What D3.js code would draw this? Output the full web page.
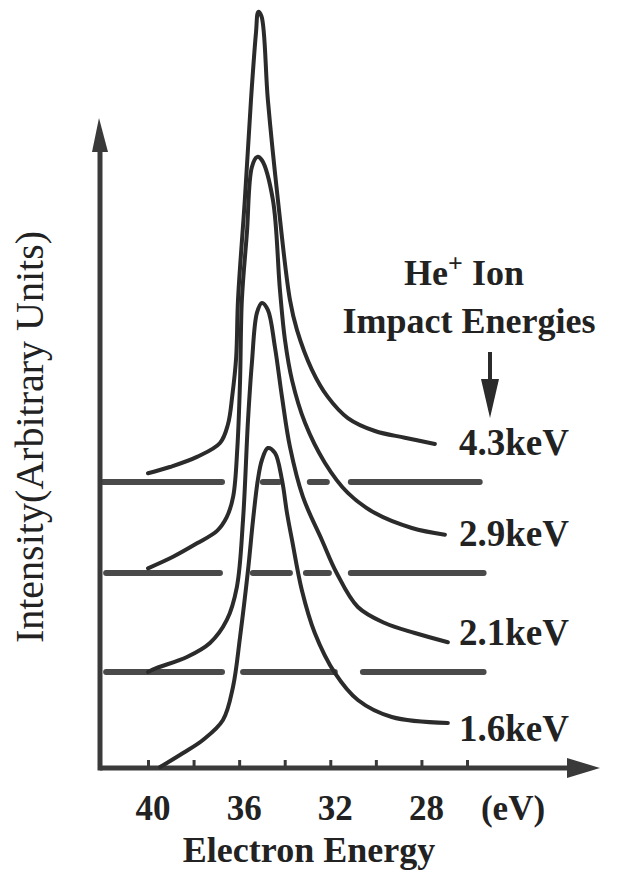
<!DOCTYPE html>
<html>
<head>
<meta charset="utf-8">
<script src="https://cdn.jsdelivr.net/npm/d3@7"></script>
<style>
  body { margin: 0; background: #fff; }
  text { font-family: "Liberation Serif", "Times New Roman", serif; fill: #222; }
</style>
</head>
<body>
<div class="chart"></div>
<script>
// electron energy (eV) and intensity above each baseline
const e43 = [40.0, 39.04, 37.85, 36.84, 36.49, 36.3, 36.13, 36.05, 35.75, 35.48, 35.26, 35.16, 35.02, 34.74, 34.3, 33.77, 33.46, 32.81, 32.11, 31.23, 30.04, 28.73, 27.41]
const v43 = [0.09, 0.155, 0.26, 0.405, 0.6, 0.9, 1.3, 1.895, 2.94, 3.98, 4.68, 4.895, 4.85, 3.98, 2.94, 1.895, 1.58, 1.17, 0.885, 0.665, 0.53, 0.46, 0.395]

const e29 = [40.0, 38.9, 37.85, 36.97, 36.55, 36.26, 36.08, 35.96, 35.88, 35.66, 35.44, 35.2, 35.0, 34.52, 34.21, 33.99, 33.68, 33.11, 32.24, 31.23, 30.04, 28.42, 26.97]
const v29 = [0.05, 0.17, 0.31, 0.44, 0.58, 0.8, 1.3, 2.0, 2.845, 3.54, 4.23, 4.335, 4.3, 3.89, 2.95, 2.43, 2.01, 1.565, 1.15, 0.835, 0.625, 0.47, 0.4]

const e21 = [40.0, 39.61, 38.29, 37.28, 36.54, 36.1, 35.83, 35.61, 35.44, 35.22, 35.0, 34.74, 34.43, 34.12, 33.77, 33.2, 32.37, 31.72, 30.79, 29.61, 28.29, 26.84]
const v21 = [0.0, 0.042, 0.156, 0.302, 0.542, 0.885, 1.583, 2.625, 3.219, 3.74, 3.844, 3.771, 3.385, 2.865, 2.344, 1.823, 1.375, 1.031, 0.677, 0.51, 0.406, 0.31]

const e16 = [39.47, 39.17, 38.46, 37.59, 36.71, 36.27, 35.96, 35.61, 35.39, 35.18, 35.0, 34.74, 34.43, 34.12, 33.9, 33.68, 33.25, 32.68, 31.8, 30.79, 29.3, 26.84]
const v16 = [0.01, 0.052, 0.156, 0.292, 0.5, 0.844, 1.365, 2.062, 2.583, 3.0, 3.208, 3.333, 3.281, 3.0, 2.656, 2.375, 1.854, 1.406, 0.99, 0.708, 0.531, 0.469]

const labels = ['4.3keV', '2.9keV', '2.1keV', '1.6keV']
const offsets = [2.98, 2.03, 1.0, 0]

// pieces of the dashed zero lines (eV from / to)
const dash43 = [[42.1, 36.62], [35.09, 34.12], [33.03, 32.02], [31.23, 25.31]]
const dash29 = [[41.97, 36.71], [35.53, 33.64], [33.2, 31.93], [31.23, 25.14]]
const dash21 = [[41.97, 36.62], [35.96, 31.67], [30.7, 25.14]]

const xTicks = [40, 38, 36, 34, 32, 30, 28, 26]
const xLabels = [40, 36, 32, 28]

const series = [
  {label: labels[0], offset: offsets[0], pts: e43.map((e, i) => ({e: e, v: v43[i]})), dash: dash43},
  {label: labels[1], offset: offsets[1], pts: e29.map((e, i) => ({e: e, v: v29[i]})), dash: dash29},
  {label: labels[2], offset: offsets[2], pts: e21.map((e, i) => ({e: e, v: v21[i]})), dash: dash21},
  {label: labels[3], offset: offsets[3], pts: e16.map((e, i) => ({e: e, v: v16[i]})), dash: []}
]

const W = 629, H = 887
const ink = '#2b2b2b'

const svg = d3.select('.chart').append('svg')
  .attr('width', W)
  .attr('height', H)

const x = d3.scaleLinear().domain([40, 26]).range([148, 467])
const y = d3.scaleLinear().domain([0, 6.77]).range([768, 118])

// dashed baselines
series.forEach(s => {
  svg.append('g').selectAll('line')
    .data(s.dash)
    .enter()
    .append('line')
    .attr('x1', d => x(d[0]) + 3)
    .attr('x2', d => x(d[1]) - 3)
    .attr('y1', y(s.offset))
    .attr('y2', y(s.offset))
    .attr('stroke', '#4a4a4a')
    .attr('stroke-width', 6)
    .attr('stroke-linecap', 'round')
})

// axes
const x0 = 100
svg.append('line')
  .attr('x1', x0).attr('x2', 570)
  .attr('y1', y(0)).attr('y2', y(0))
  .attr('stroke', '#3a3a3a').attr('stroke-width', 5)
svg.append('polygon')
  .attr('points', `567,${y(0) - 10} 600,${y(0)} 567,${y(0) + 10}`)
  .attr('fill', '#3a3a3a')

svg.append('line')
  .attr('x1', x0).attr('x2', x0)
  .attr('y1', y(0) + 2.5).attr('y2', 150)
  .attr('stroke', '#3a3a3a').attr('stroke-width', 5)
svg.append('polygon')
  .attr('points', `${x0 - 8},152 ${x0 - 1},118 ${x0 + 8},152`)
  .attr('fill', '#3a3a3a')

const xAxis = d3.axisBottom(x)
  .tickValues(xTicks)
  .tickSize(-8)
  .tickFormat('')
const gx = svg.append('g')
  .attr('transform', `translate(0,${y(0)})`)
  .call(xAxis)
gx.select('.domain').remove()
gx.selectAll('.tick line').attr('stroke', '#3a3a3a').attr('stroke-width', 3)

svg.append('g').selectAll('text')
  .data(xLabels)
  .enter()
  .append('text')
  .attr('x', d => x(d) + 5)
  .attr('y', 820)
  .attr('text-anchor', 'middle')
  .attr('font-size', '35px')
  .attr('font-weight', 'bold')
  .text(d => d)

svg.append('text')
  .attr('x', 513).attr('y', 820)
  .attr('text-anchor', 'middle')
  .attr('font-size', '35px')
  .attr('font-weight', 'bold')
  .text('(eV)')

svg.append('text')
  .attr('x', 309).attr('y', 862)
  .attr('text-anchor', 'middle')
  .attr('font-size', '36px')
  .attr('font-weight', 'bold')
  .text('Electron Energy')

svg.append('text')
  .attr('transform', 'translate(43,437) rotate(-90)')
  .attr('text-anchor', 'middle')
  .attr('font-size', '40px')
  .text('Intensity(Arbitrary Units)')

// spectra
const line = d3.line()
  .x(d => x(d.e))
  .curve(d3.curveCatmullRom.alpha(0.5))

svg.append('g').selectAll('path')
  .data(series)
  .enter()
  .append('path')
  .attr('d', s => line.y(d => y(d.v + s.offset))(s.pts))
  .attr('fill', 'none')
  .attr('stroke', ink)
  .attr('stroke-width', 4)
  .attr('stroke-linecap', 'round')
  .attr('stroke-linejoin', 'round')

svg.append('g').selectAll('text')
  .data(series)
  .enter()
  .append('text')
  .attr('x', 459)
  .attr('y', s => y(s.offset) - 27)
  .attr('font-size', '37px')
  .attr('font-weight', 'bold')
  .text(s => s.label)

// legend heading and arrow
const head = svg.append('text')
  .attr('x', 464).attr('y', 285)
  .attr('text-anchor', 'middle')
  .attr('font-size', '36px')
  .attr('font-weight', 'bold')
head.append('tspan').text('He')
head.append('tspan').attr('font-size', '26px').attr('dy', -13).text('+')
head.append('tspan').attr('dy', 13).text(' Ion')

svg.append('text')
  .attr('x', 469).attr('y', 333)
  .attr('text-anchor', 'middle')
  .attr('font-size', '36px')
  .attr('font-weight', 'bold')
  .text('Impact Energies')

svg.append('line')
  .attr('x1', 490).attr('x2', 490)
  .attr('y1', 352).attr('y2', 382)
  .attr('stroke', ink).attr('stroke-width', 4)
svg.append('polygon')
  .attr('points', '481,379 490,418 499,379')
  .attr('fill', ink)
</script>
</body>
</html>
